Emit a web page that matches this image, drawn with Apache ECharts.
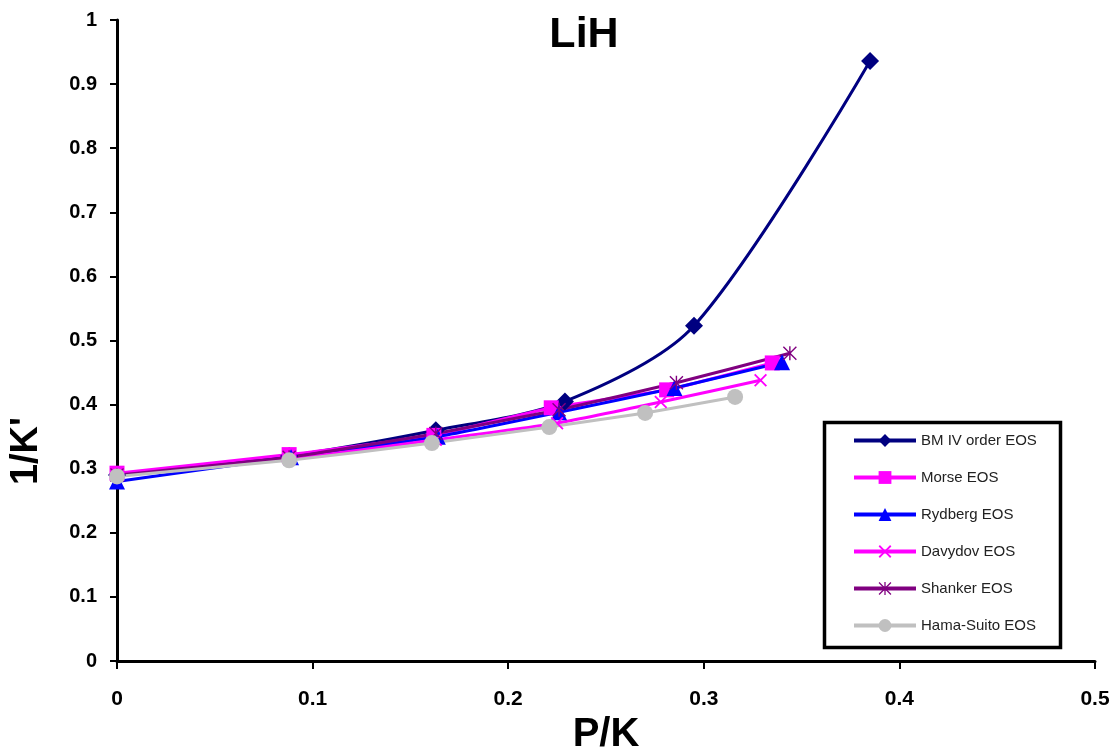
<!DOCTYPE html>
<html>
<head>
<meta charset="utf-8">
<title>LiH</title>
<script src="https://cdn.jsdelivr.net/npm/echarts@6/dist/echarts.min.js"></script>
<style>
  html, body { margin: 0; padding: 0; background: #fff; }
  #chart { width: 1118px; height: 754px; }
</style>
</head>
<body>
<div id="chart"></div>
<script>
// P/K values and 1/K' values for each EOS
var bmX = [0, 0.088, 0.163, 0.229, 0.295, 0.385];
var bmY = [0.29, 0.32, 0.36, 0.405, 0.523, 0.936];
var morseX = [0, 0.088, 0.162, 0.222, 0.281, 0.335];
var morseY = [0.293, 0.322, 0.352, 0.395, 0.423, 0.465];
var rydbergX = [0, 0.089, 0.164, 0.226, 0.285, 0.340];
var rydbergY = [0.28, 0.318, 0.35, 0.388, 0.426, 0.466];
var davydovX = [0, 0.088, 0.163, 0.225, 0.278, 0.329];
var davydovY = [0.29, 0.315, 0.345, 0.371, 0.404, 0.438];
var shankerX = [0, 0.088, 0.163, 0.226, 0.286, 0.344];
var shankerY = [0.29, 0.318, 0.355, 0.392, 0.434, 0.48];
var hamaX = [0, 0.088, 0.161, 0.221, 0.270, 0.316];
var hamaY = [0.288, 0.313, 0.34, 0.365, 0.387, 0.412];

var seriesNames = ['BM IV order EOS', 'Morse EOS', 'Rydberg EOS', 'Davydov EOS', 'Shanker EOS', 'Hama-Suito EOS'];

var xSymbol = 'path://M0,2L2,0L10,8L18,0L20,2L12,10L20,18L18,20L10,12L2,20L0,18L8,10Z';
var starSymbol = 'path://M9,0L11,0L11,20L9,20ZM0,1.4L1.4,0L20,18.6L18.6,20ZM18.6,0L20,1.4L1.4,20L0,18.6Z';

function pairs(xs, ys) {
	var out = [];
	for (var i = 0; i < xs.length; i++) out.push([xs[i], ys[i]]);
	return out;
}

function makeSeries(name, xs, ys, color, symbol, size, smooth) {
	return {
		name: name,
		type: 'line',
		data: pairs(xs, ys),
		smooth: smooth,
		clip: false,
		symbol: symbol,
		symbolSize: size,
		showAllSymbol: true,
		lineStyle: { color: color, width: 3 },
		itemStyle: { color: color, opacity: 1 },
		emphasis: { disabled: true }
	};
}

var chart = echarts.init(document.getElementById('chart'));

var option = {
	animation: false,
	backgroundColor: '#fff',
	title: {
		text: 'LiH',
		left: 579,
		top: 9,
		textAlign: 'center',
		textStyle: { fontFamily: 'Liberation Sans, Arial', fontWeight: 'bold', fontSize: 43, color: '#000' }
	},
	grid: { left: 117, right: 23, top: 20, bottom: 93, containLabel: false, outerBoundsMode: 'none' },
	legend: {
		orient: 'vertical',
		left: 852,
		top: 433,
		itemWidth: 62,
		itemHeight: 16,
		itemGap: 22,
		padding: 0,
		data: seriesNames,
		lineStyle: { width: 4 },
		textStyle: { fontFamily: 'Liberation Sans, Arial', fontSize: 15, color: '#222' }
	},
	xAxis: {
		type: 'value',
		min: 0,
		max: 0.5,
		interval: 0.1,
		name: 'P/K',
		nameLocation: 'middle',
		nameGap: 53,
		nameTextStyle: { fontFamily: 'Liberation Sans, Arial', fontWeight: 'bold', fontSize: 40, color: '#000' },
		axisLine: { show: true, onZero: false, lineStyle: { color: '#000', width: 3 } },
		axisTick: { show: true, inside: false, length: 8, lineStyle: { color: '#000', width: 2 } },
		axisLabel: {
			margin: 28,
			fontFamily: 'Liberation Sans, Arial',
			fontWeight: 'bold',
			fontSize: 21,
			color: '#000',
			formatter: function (v) { return v === 0 ? '0' : v.toFixed(1); }
		},
		splitLine: { show: false }
	},
	yAxis: {
		type: 'value',
		min: 0,
		max: 1,
		interval: 0.1,
		axisLine: { show: true, onZero: false, lineStyle: { color: '#000', width: 3 } },
		axisTick: { show: true, inside: false, length: 7, lineStyle: { color: '#000', width: 2 } },
		axisLabel: {
			margin: 20,
			fontFamily: 'Liberation Sans, Arial',
			fontWeight: 'bold',
			fontSize: 20,
			color: '#000',
			formatter: function (v) { return (v === 0 || v === 1) ? String(v) : v.toFixed(1); }
		},
		splitLine: { show: false }
	},
	graphic: [{
		type: 'rect',
		left: 822,
		top: 420,
		shape: { width: 236, height: 225 },
		style: { fill: 'none', stroke: '#000', lineWidth: 3.5 },
		z: 10
	}, {
		// y axis title sits below the axis middle in the reference
		type: 'text',
		x: 27,
		y: 451,
		rotation: Math.PI / 2,
		style: {
			text: "1/K'",
			fontFamily: 'Liberation Sans, Arial',
			fontWeight: 'bold',
			fontSize: 38,
			fill: '#000',
			align: 'center',
			verticalAlign: 'middle'
		}
	}],
	series: [
		makeSeries(seriesNames[0], bmX, bmY, '#000080', 'diamond', 18, 0.3),
		makeSeries(seriesNames[1], morseX, morseY, '#FF00FF', 'rect', 15, 0.15),
		makeSeries(seriesNames[2], rydbergX, rydbergY, '#0000FF', 'triangle', 16, 0.15),
		makeSeries(seriesNames[3], davydovX, davydovY, '#FF00FF', xSymbol, 13, 0.15),
		makeSeries(seriesNames[4], shankerX, shankerY, '#800080', starSymbol, 14, 0.15),
		makeSeries(seriesNames[5], hamaX, hamaY, '#C0C0C0', 'circle', 16, 0.15)
	]
};

chart.setOption(option);
window.addEventListener('resize', function () { chart.resize(); });
</script>
</body>
</html>
